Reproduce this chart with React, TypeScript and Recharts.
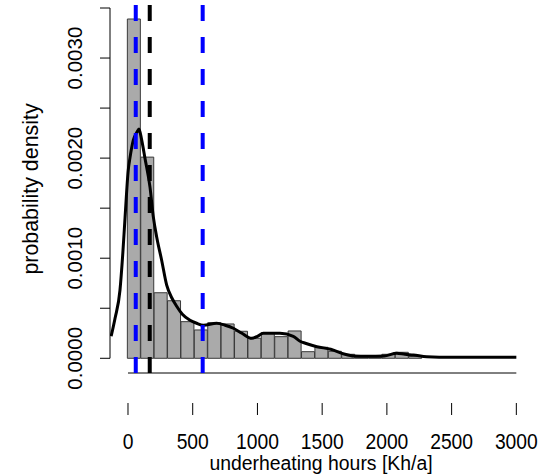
import React from 'react';
import { ComposedChart, Bar, Line, XAxis, YAxis, ReferenceLine } from 'recharts';

// histogram bins (left edge, width) and their densities
const BIN_WIDTH = 103.5;
const BIN_START = [
  -5, 98.5, 202, 305.5, 409, 512.5, 616, 719.5, 823, 926.5, 1030,
  1133.5, 1237, 1340.5, 1444, 1547.5, 1651, 1754.5, 1858, 1961.5, 2065, 2168.5,
];
const BIN_DENSITY = [
  0.00339, 0.00201, 0.000655, 0.000575, 0.000366, 0.000283, 0.000356, 0.000343,
  0.00027, 0.0002, 0.000256, 0.000216, 0.000273, 0.000066, 0.00011, 0.00007,
  0.00004, 0.00001, 0.00001, 0.00004, 0.00006, 0.00002,
];

// kernel density estimate
const KDE_X = [
  -130, -100, -62, -40, -23, 2, 15, 41, 70, 85, 106, 131, 170, 196, 222, 260,
  299, 340, 376, 420, 479, 530, 582, 685, 750, 814, 880, 956, 1000, 1045, 1174,
  1277, 1329, 1370, 1459, 1566, 1669, 1746, 1850, 1978, 2076, 2140, 2205, 2308,
  2500, 3000,
];
const KDE_Y = [
  0.00022, 0.0004, 0.00068, 0.00105, 0.0014, 0.00188, 0.002, 0.00218, 0.00226,
  0.00229, 0.00218, 0.002, 0.00171, 0.00141, 0.00121, 0.00098, 0.00073, 0.0006,
  0.00052, 0.00044, 0.00038, 0.00035, 0.00033, 0.00035, 0.00033, 0.0003,
  0.00025, 0.0002, 0.00022, 0.00025, 0.00025, 0.00022, 0.00017, 0.00015,
  0.000116, 0.00009, 0.000043, 0.000023, 0.00002, 0.000023, 0.00005, 0.00004,
  0.000033, 0.000016, 0.00001, 0.00001,
];

// vertical markers
const BLUE_LINES = [60, 577];
const BLACK_LINES = [168];

const X_TICKS = [0, 500, 1000, 1500, 2000, 2500, 3000];
const Y_TICKS = [0, 0.0005, 0.001, 0.0015, 0.002, 0.0025, 0.003, 0.0035];
const Y_LABELS = ['0.0000', '', '0.0010', '', '0.0020', '', '0.0030', ''];

const X_DOMAIN: [number, number] = [-139, 3121];
const Y_DOMAIN: [number, number] = [-0.000147, 0.00353];

const bins = BIN_START.map((s, i) => ({ x: s + BIN_WIDTH / 2, density: BIN_DENSITY[i] }));
const kde = KDE_X.map((x, i) => ({ x, y: KDE_Y[i] }));

const FONT = '"Liberation Sans", Arial, sans-serif';

const XTick = (props: any) => {
  const { x, y, payload } = props;
  return (
    <g transform={`translate(${x},${y + 32}) scale(1,1.1)`}>
      <text textAnchor="middle" fontSize={19.3} fontFamily={FONT} fill="#000">
        {payload.value}
      </text>
    </g>
  );
};

const YTick = (props: any) => {
  const { x, y, index } = props;
  const label = Y_LABELS[index];
  if (!label) return null;
  return (
    <text
      transform={`translate(${x - 16.5},${y}) rotate(-90)`}
      textAnchor="middle"
      fontSize={20.5}
      fontFamily={FONT}
      fill="#000"
    >
      {label}
    </text>
  );
};

const XTitle = (props: any) => {
  const { viewBox } = props;
  return (
    <g transform={`translate(${viewBox.x + viewBox.width / 2},470) scale(1,1.08)`}>
      <text textAnchor="middle" fontSize={19.4} fontFamily={FONT} fill="#000">
        underheating hours [Kh/a]
      </text>
    </g>
  );
};

const YTitle = (props: any) => {
  const { viewBox } = props;
  return (
    <text
      transform={`translate(${viewBox.x + 37.5},${viewBox.y + viewBox.height / 2}) rotate(-90)`}
      textAnchor="middle"
      fontSize={21.4}
      fontFamily={FONT}
      fill="#000"
    >
      probability density
    </text>
  );
};

export default function App() {
  return (
    <div style={{ position: 'fixed', left: 0, top: 0, width: 552, height: 476, background: '#fff' }}>
      <ComposedChart
        width={552}
        height={476}
        data={bins}
        margin={{ top: 5, right: 20, bottom: 0, left: 0 }}
        barCategoryGap={0}
        barGap={0}
      >
        <XAxis
          xAxisId="bins"
          dataKey="x"
          type="number"
          domain={X_DOMAIN}
          allowDataOverflow
          hide
        />
        <XAxis
          xAxisId="kde"
          dataKey="x"
          type="number"
          domain={X_DOMAIN}
          allowDataOverflow
          ticks={X_TICKS}
          interval={0}
          tickSize={12}
          tickLine={{ stroke: '#000', strokeWidth: 1 }}
          axisLine={false}
          tick={<XTick />}
          height={103}
          label={<XTitle />}
        />
        <YAxis
          type="number"
          domain={Y_DOMAIN}
          allowDataOverflow
          ticks={Y_TICKS}
          interval={0}
          tickSize={10}
          tickLine={{ stroke: '#000', strokeWidth: 1 }}
          axisLine={false}
          tick={<YTick />}
          width={110}
          label={<YTitle />}
        />
        <ReferenceLine
          xAxisId="kde"
          segment={[{ x: X_TICKS[0], y: Y_DOMAIN[0] }, { x: X_TICKS[X_TICKS.length - 1], y: Y_DOMAIN[0] }]}
          stroke="#000"
          strokeWidth={1}
          ifOverflow="visible"
        />
        <ReferenceLine
          xAxisId="kde"
          segment={[{ x: X_DOMAIN[0], y: Y_TICKS[0] }, { x: X_DOMAIN[0], y: Y_TICKS[Y_TICKS.length - 1] }]}
          stroke="#000"
          strokeWidth={1}
          ifOverflow="visible"
        />
        <Bar
          xAxisId="bins"
          dataKey="density"
          fill="#aaaaaa"
          stroke="#3a3a3a"
          strokeWidth={1}
          isAnimationActive={false}
        />
        <Line
          xAxisId="kde"
          data={kde}
          dataKey="y"
          type="monotone"
          stroke="#000"
          strokeWidth={3}
          dot={false}
          activeDot={false}
          isAnimationActive={false}
        />
        {BLUE_LINES.map((v) => (
          <ReferenceLine
            key={`b${v}`}
            xAxisId="kde"
            x={v}
            stroke="#0000ff"
            strokeWidth={4}
            strokeDasharray="16 16"
          />
        ))}
        {BLACK_LINES.map((v) => (
          <ReferenceLine
            key={`k${v}`}
            xAxisId="kde"
            x={v}
            stroke="#000"
            strokeWidth={4}
            strokeDasharray="16 16"
          />
        ))}
      </ComposedChart>
    </div>
  );
}
